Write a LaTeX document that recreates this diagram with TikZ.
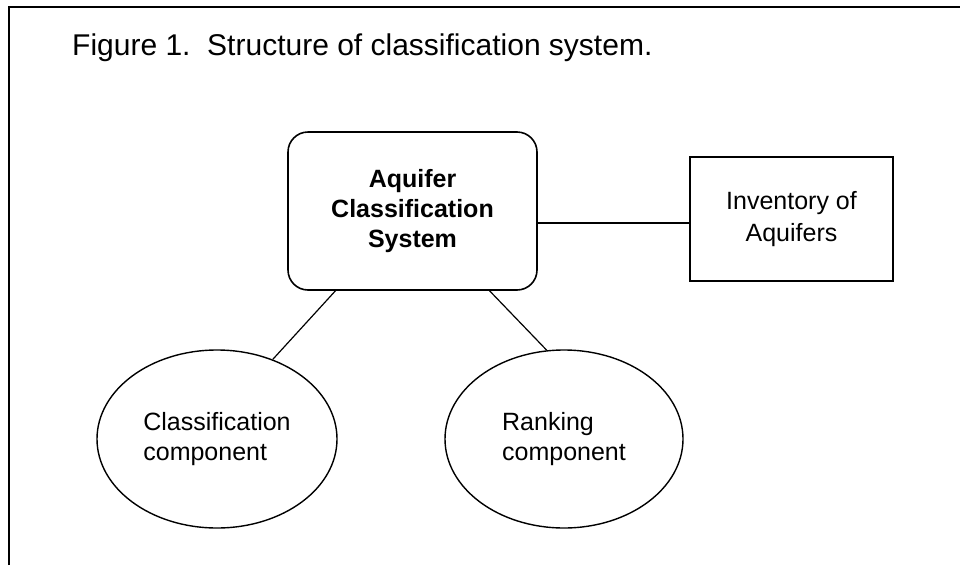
\documentclass[tikz,border=0pt]{standalone}
\usepackage{fontspec}
\setmainfont{Liberation Sans}
\usetikzlibrary{shapes.geometric}
\tikzstyle{system} = [rectangle, rounded corners=20pt, minimum width=249pt, minimum height=158pt, text centered, align=center, draw=black, line width=1.6pt, font=\fontsize{25}{30}\selectfont\bfseries]
\tikzstyle{inventory} = [rectangle, minimum width=203pt, minimum height=124pt, text centered, align=center, draw=black, line width=1.6pt, font=\fontsize{25}{32}\selectfont]
\tikzstyle{component} = [ellipse, minimum width=240pt, minimum height=178pt, align=left, draw=black, line width=1.4pt, inner sep=0pt, font=\fontsize{25}{30}\selectfont]
\tikzstyle{link} = [line width=1.2pt]

\begin{document}
\begin{tikzpicture}[x=1pt, y=-1pt]
\useasboundingbox (0,0) rectangle (960,565);
\draw [line width=2pt] (9,565) -- (9,7) -- (960,7);
\node (title) [anchor=base west, inner sep=0pt, font=\fontsize{30}{34}\selectfont] at (72,55) {Figure 1.\ \ Structure of classification system.};
\node (sys) [system] at (412.5,211) {Aquifer\\Classification\\System};
\node (inv) [inventory] at (791.5,219) {Inventory of\\Aquifers};
\node (cls) [component] at (217,439) {Classification\\component};
\node (rnk) [component, minimum width=238pt] at (564,439) {Ranking\\component};
\draw [link] ([yshift=-4pt]inv.west) -- ([yshift=-4pt]inv.west -| sys.east);
\draw [link] (sys.226) -- (cls.55);
\draw [link] (sys.314) -- (rnk.101);
\end{tikzpicture}
\end{document}
